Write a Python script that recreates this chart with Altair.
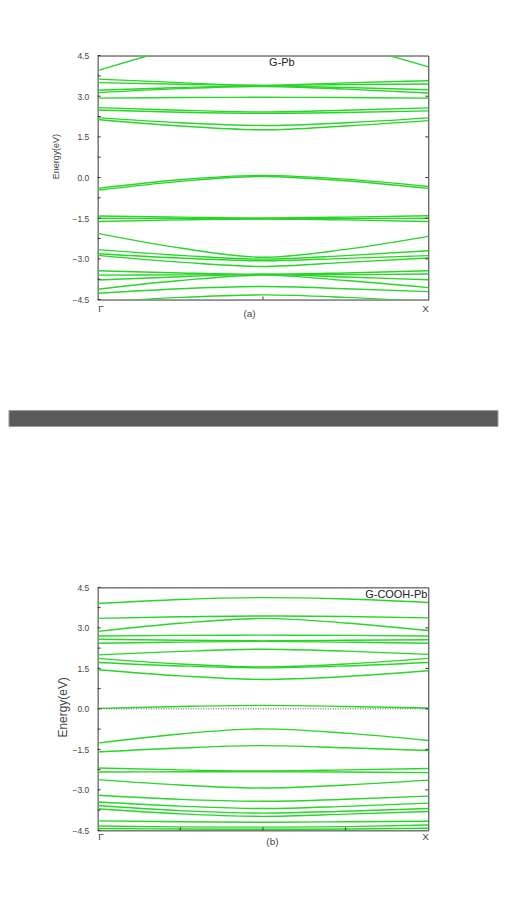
import altair as alt
import pandas as pd

# k-path positions (Gamma -> X), read at 5 points along each band
k_points = [0.0, 0.25, 0.5, 0.75, 1.0]

# (a) G-Pb bands (eV) at k_points
top_bands = [
    [3.94, 4.78, 5.20, 4.88, 4.08],
    [3.63, 3.50, 3.40, 3.49, 3.57],
    [3.50, 3.44, 3.40, 3.43, 3.45],
    [3.22, 3.32, 3.38, 3.32, 3.24],
    [3.13, 3.28, 3.36, 3.26, 3.12],
    [2.93, 2.95, 2.96, 2.95, 2.93],
    [2.58, 2.48, 2.42, 2.48, 2.57],
    [2.49, 2.41, 2.37, 2.40, 2.46],
    [2.21, 2.02, 1.92, 2.02, 2.20],
    [2.14, 1.90, 1.76, 1.90, 2.10],
    [-0.40, -0.08, 0.08, -0.06, -0.33],
    [-0.47, -0.14, 0.04, -0.12, -0.40],
    [-1.42, -1.46, -1.49, -1.46, -1.41],
    [-1.50, -1.51, -1.52, -1.51, -1.50],
    [-1.62, -1.56, -1.53, -1.56, -1.62],
    [-2.06, -2.60, -2.94, -2.65, -2.17],
    [-2.66, -2.87, -3.01, -2.88, -2.70],
    [-2.81, -2.97, -3.07, -2.98, -2.88],
    [-2.87, -3.12, -3.28, -3.13, -2.97],
    [-3.44, -3.52, -3.57, -3.52, -3.44],
    [-3.60, -3.59, -3.58, -3.58, -3.56],
    [-3.78, -3.66, -3.57, -3.67, -3.77],
    [-4.12, -3.80, -3.60, -3.80, -4.06],
    [-4.27, -4.10, -4.02, -4.10, -4.21],
    [-4.60, -4.42, -4.33, -4.42, -4.58],
]

# (b) G-COOH-Pb bands (eV) at k_points
bottom_bands = [
    [3.90, 4.05, 4.12, 4.07, 3.94],
    [3.35, 3.41, 3.44, 3.42, 3.37],
    [2.87, 3.17, 3.35, 3.18, 2.90],
    [2.70, 2.72, 2.73, 2.72, 2.70],
    [2.58, 2.54, 2.52, 2.54, 2.56],
    [2.43, 2.47, 2.50, 2.47, 2.43],
    [2.00, 2.13, 2.21, 2.14, 2.02],
    [1.87, 1.66, 1.55, 1.66, 1.87],
    [1.72, 1.59, 1.52, 1.59, 1.72],
    [1.45, 1.22, 1.09, 1.20, 1.41],
    [0.02, 0.09, 0.13, 0.09, 0.03],
    [-1.27, -0.93, -0.74, -0.90, -1.17],
    [-1.60, -1.45, -1.36, -1.44, -1.54],
    [-2.19, -2.26, -2.30, -2.26, -2.21],
    [-2.34, -2.33, -2.33, -2.34, -2.36],
    [-2.62, -2.82, -2.93, -2.82, -2.64],
    [-3.20, -3.35, -3.42, -3.35, -3.23],
    [-3.45, -3.60, -3.69, -3.61, -3.49],
    [-3.58, -3.77, -3.86, -3.79, -3.69],
    [-3.70, -3.89, -3.98, -3.90, -3.80],
    [-4.15, -4.18, -4.20, -4.18, -4.16],
    [-4.34, -4.37, -4.38, -4.36, -4.30],
    [-4.43, -4.45, -4.46, -4.45, -4.42],
]

y_label_values = [-4.5, -3.0, -1.5, 0.0, 1.5, 3.0, 4.5]
y_left_ticks = [-4.5, -3.75, -3.0, -2.25, -1.5, -0.75, 0.0, 0.75, 1.5, 2.25, 3.0, 3.75, 4.5]
y_right_ticks = [-3.0, -1.5, 0.0, 1.5, 3.0]
x_label_values = [0.0, 1.0]
top_x_ticks = [0.5]
bottom_x_ticks = [0.25, 0.5, 0.75]
fermi_level = [0.0]

GREEN = "#27d627"
FRAME = "#333333"
LABEL = "#444444"
W = 332


def panel(bands, h, name, name_x, name_align, x_title, x_title_x, x_title_y,
          x_lab_pad, y_title_size, y_title_x, y_title_y, x_ticks, fermi, bar):
    rows = [{"band": i, "k": k, "E": e}
            for i, b in enumerate(bands) for k, e in zip(k_points, b)]
    df = pd.DataFrame(rows)

    xaxis = alt.Axis(values=x_label_values,
                     labelExpr="datum.value == 0 ? 'Γ' : 'X'",
                     ticks=False, tickSize=0, domain=False, grid=False,
                     labelPadding=x_lab_pad, labelFontSize=10, labelColor=LABEL,
                     title=x_title, titleFontSize=10, titleFontWeight="normal",
                     titleColor=LABEL, titleX=x_title_x, titleY=x_title_y,
                     titleBaseline="middle")
    yaxis = alt.Axis(values=y_label_values, format=".1f",
                     ticks=False, tickSize=0, domain=False, grid=False,
                     labelPadding=9, labelFontSize=8.5, labelColor=LABEL,
                     title="Energy(eV)", titleFontSize=y_title_size,
                     titleFontWeight="normal", titleColor=LABEL,
                     titleX=y_title_x, titleY=y_title_y,
                     titleBaseline="middle", titleAngle=270)

    def xe(field="k"):
        return alt.X(f"{field}:Q", scale=alt.Scale(domain=[0, 1], nice=False, zero=False), axis=xaxis)

    def ye(field="E"):
        return alt.Y(f"{field}:Q", scale=alt.Scale(domain=[-4.5, 4.5], nice=False, zero=False), axis=yaxis)

    lines = alt.Chart(df).mark_line(
        color=GREEN, strokeWidth=1.4, interpolate="monotone", clip=True
    ).encode(x=xe(), y=ye(), detail="band:N")

    layers = [lines]

    if fermi:
        layers.append(
            alt.Chart(pd.DataFrame({"E": fermi_level})).mark_rule(
                color="#555555", strokeWidth=1, strokeDash=[1, 1.5]
            ).encode(y=ye())
        )

    layers.append(
        alt.Chart(pd.DataFrame({"E": y_left_ticks})).mark_rule(color=FRAME, strokeWidth=1)
        .encode(y=ye(), x=alt.value(0), x2=alt.value(3))
    )
    layers.append(
        alt.Chart(pd.DataFrame({"E": y_right_ticks})).mark_rule(color=FRAME, strokeWidth=1)
        .encode(y=ye(), x=alt.value(W - 3), x2=alt.value(W))
    )
    layers.append(
        alt.Chart(pd.DataFrame({"k": x_ticks})).mark_rule(color=FRAME, strokeWidth=1)
        .encode(x=xe(), y=alt.value(h - 3), y2=alt.value(h))
    )
    layers.append(
        alt.Chart(pd.DataFrame({"t": [name]})).mark_text(
            fontSize=11, color="#222222", align=name_align, baseline="middle"
        ).encode(text="t:N", x=alt.value(name_x), y=alt.value(8))
    )
    if bar:
        layers.append(
            alt.Chart(pd.DataFrame({"t": [0]})).mark_rect(
                color="#5a5a5a", stroke="#9a9a9a", strokeWidth=1
            ).encode(x=alt.value(-89), x2=alt.value(402),
                     y=alt.value(356.5), y2=alt.value(372.5))
        )

    return alt.layer(*layers).properties(width=W, height=h)


top = panel(top_bands, 245, "G-Pb", 185, "center", "(a)", 152, 14, 4,
            9, -42, 101, top_x_ticks, False, True)
bottom = panel(bottom_bands, 244, "G-COOH-Pb", 331, "right", "(b)", 175, 11, 1,
               12, -35, 120, bottom_x_ticks, True, False)

chart = alt.vconcat(top, bottom, spacing=289, bounds="flush").properties(
    padding={"left": 0, "top": 41, "right": 0, "bottom": 5}
).configure(font="Liberation Sans").configure_view(stroke=FRAME, strokeWidth=1)

chart.save("out.html", embed_options={"renderer": "svg", "actions": False})
